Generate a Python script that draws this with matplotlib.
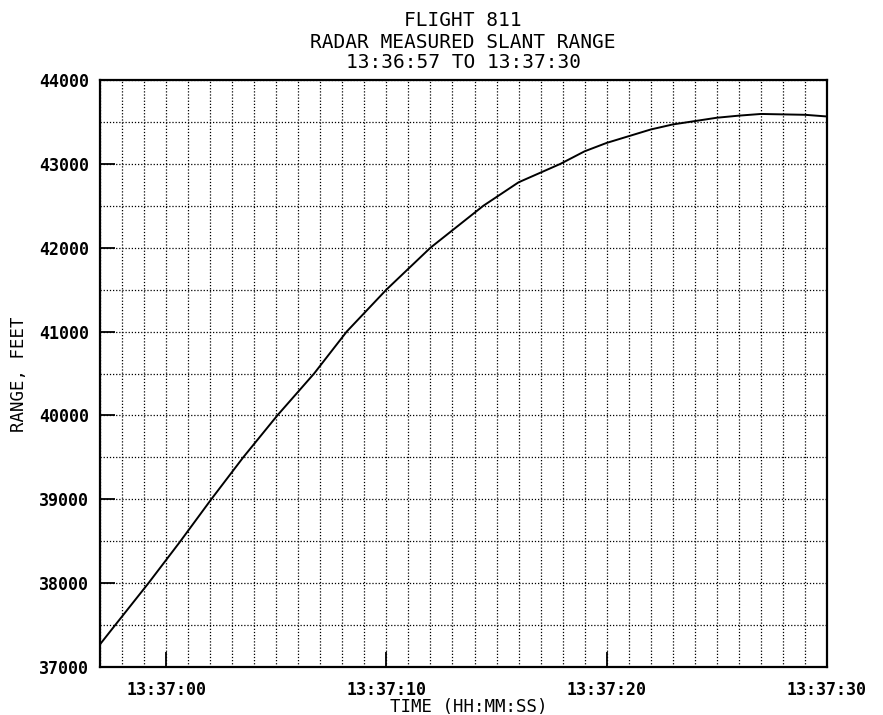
import matplotlib
matplotlib.use("Agg")
import matplotlib.pyplot as plt
from matplotlib.ticker import MultipleLocator, FixedLocator, FuncFormatter

# ---- data (seconds after 13:36:57, slant range in feet) ----
start_h, start_m, start_s = 13, 36, 57
t_sec = [0.0, 0.69, 2.2, 3.65, 5.05, 6.5, 8.05, 9.72, 11.2, 13.0, 15.0, 17.4,
         19.0, 20.9, 22.0, 23.0, 24.0, 25.0, 26.0, 27.0, 28.0, 29.0, 30.0,
         31.0, 32.0, 33.0]
range_ft = [37270, 37500, 38000, 38500, 39000, 39500, 40000, 40500, 41000,
            41500, 42000, 42500, 42780, 43000, 43150, 43250, 43330, 43410,
            43470, 43510, 43550, 43575, 43595, 43590, 43585, 43565]
xtick_sec = [3, 13, 23, 33]
ytick_vals = [37000, 38000, 39000, 40000, 41000, 42000, 43000, 44000]

title_lines = ["FLIGHT 811", "RADAR MEASURED SLANT RANGE", "13:36:57 TO 13:37:30"]
xlabel = "TIME (HH:MM:SS)"
ylabel = "RANGE, FEET"

FONT = ["DejaVu Sans Mono"]


def hms(x, pos=None):
    total = int(round(start_h * 3600 + start_m * 60 + start_s + x))
    h, rem = divmod(total, 3600)
    m, s = divmod(rem, 60)
    return f"{h:02d}:{m:02d}:{s:02d}"


fig = plt.figure(figsize=(8.83, 7.15), dpi=100)
ax = fig.add_axes([100 / 883, 1 - 667 / 715, 727 / 883, 587 / 715])

ax.plot(t_sec, range_ft, color="black", linewidth=1.4)

ax.set_xlim(0, 33)
ax.set_ylim(37000, 44000)

ax.xaxis.set_major_locator(FixedLocator(xtick_sec))
ax.xaxis.set_major_formatter(FuncFormatter(hms))
ax.xaxis.set_minor_locator(MultipleLocator(1))
ax.yaxis.set_major_locator(FixedLocator(ytick_vals))
ax.yaxis.set_minor_locator(MultipleLocator(500))

ax.grid(which="both", axis="x", linestyle=(0, (1, 1.5)), color="black", linewidth=0.9)
ax.grid(which="both", axis="y", linestyle=(0, (1, 1.5)), color="black", linewidth=0.9)

ax.tick_params(axis="both", which="major", direction="in", length=11, width=1.3,
               colors="black", labelsize=12)
ax.tick_params(axis="both", which="minor", length=0)
ax.tick_params(axis="y", pad=8)
ax.tick_params(axis="x", pad=10)
for lab in ax.get_xticklabels() + ax.get_yticklabels():
    lab.set_fontfamily(FONT)
    lab.set_fontweight("bold")

for sp in ax.spines.values():
    sp.set_linewidth(1.6)
    sp.set_color("black")

fig.text(0.5 + (463 - 441.5) / 883, 1 - 21 / 715, title_lines[0], ha="center", va="center",
         fontsize=14, family=FONT)
fig.text(0.5 + (463 - 441.5) / 883, 1 - 42 / 715, title_lines[1], ha="center", va="center",
         fontsize=14, family=FONT)
fig.text(0.5 + (463 - 441.5) / 883, 1 - 62 / 715, title_lines[2], ha="center", va="center",
         fontsize=14, family=FONT)

fig.text(469 / 883, 1 - 707 / 715, xlabel, ha="center", va="center",
         fontsize=12.5, family=FONT)
fig.text(19 / 883, 1 - 374 / 715, ylabel, ha="center", va="center", rotation=90,
         fontsize=12.5, family=FONT)

fig.savefig("out.png", dpi=100)
